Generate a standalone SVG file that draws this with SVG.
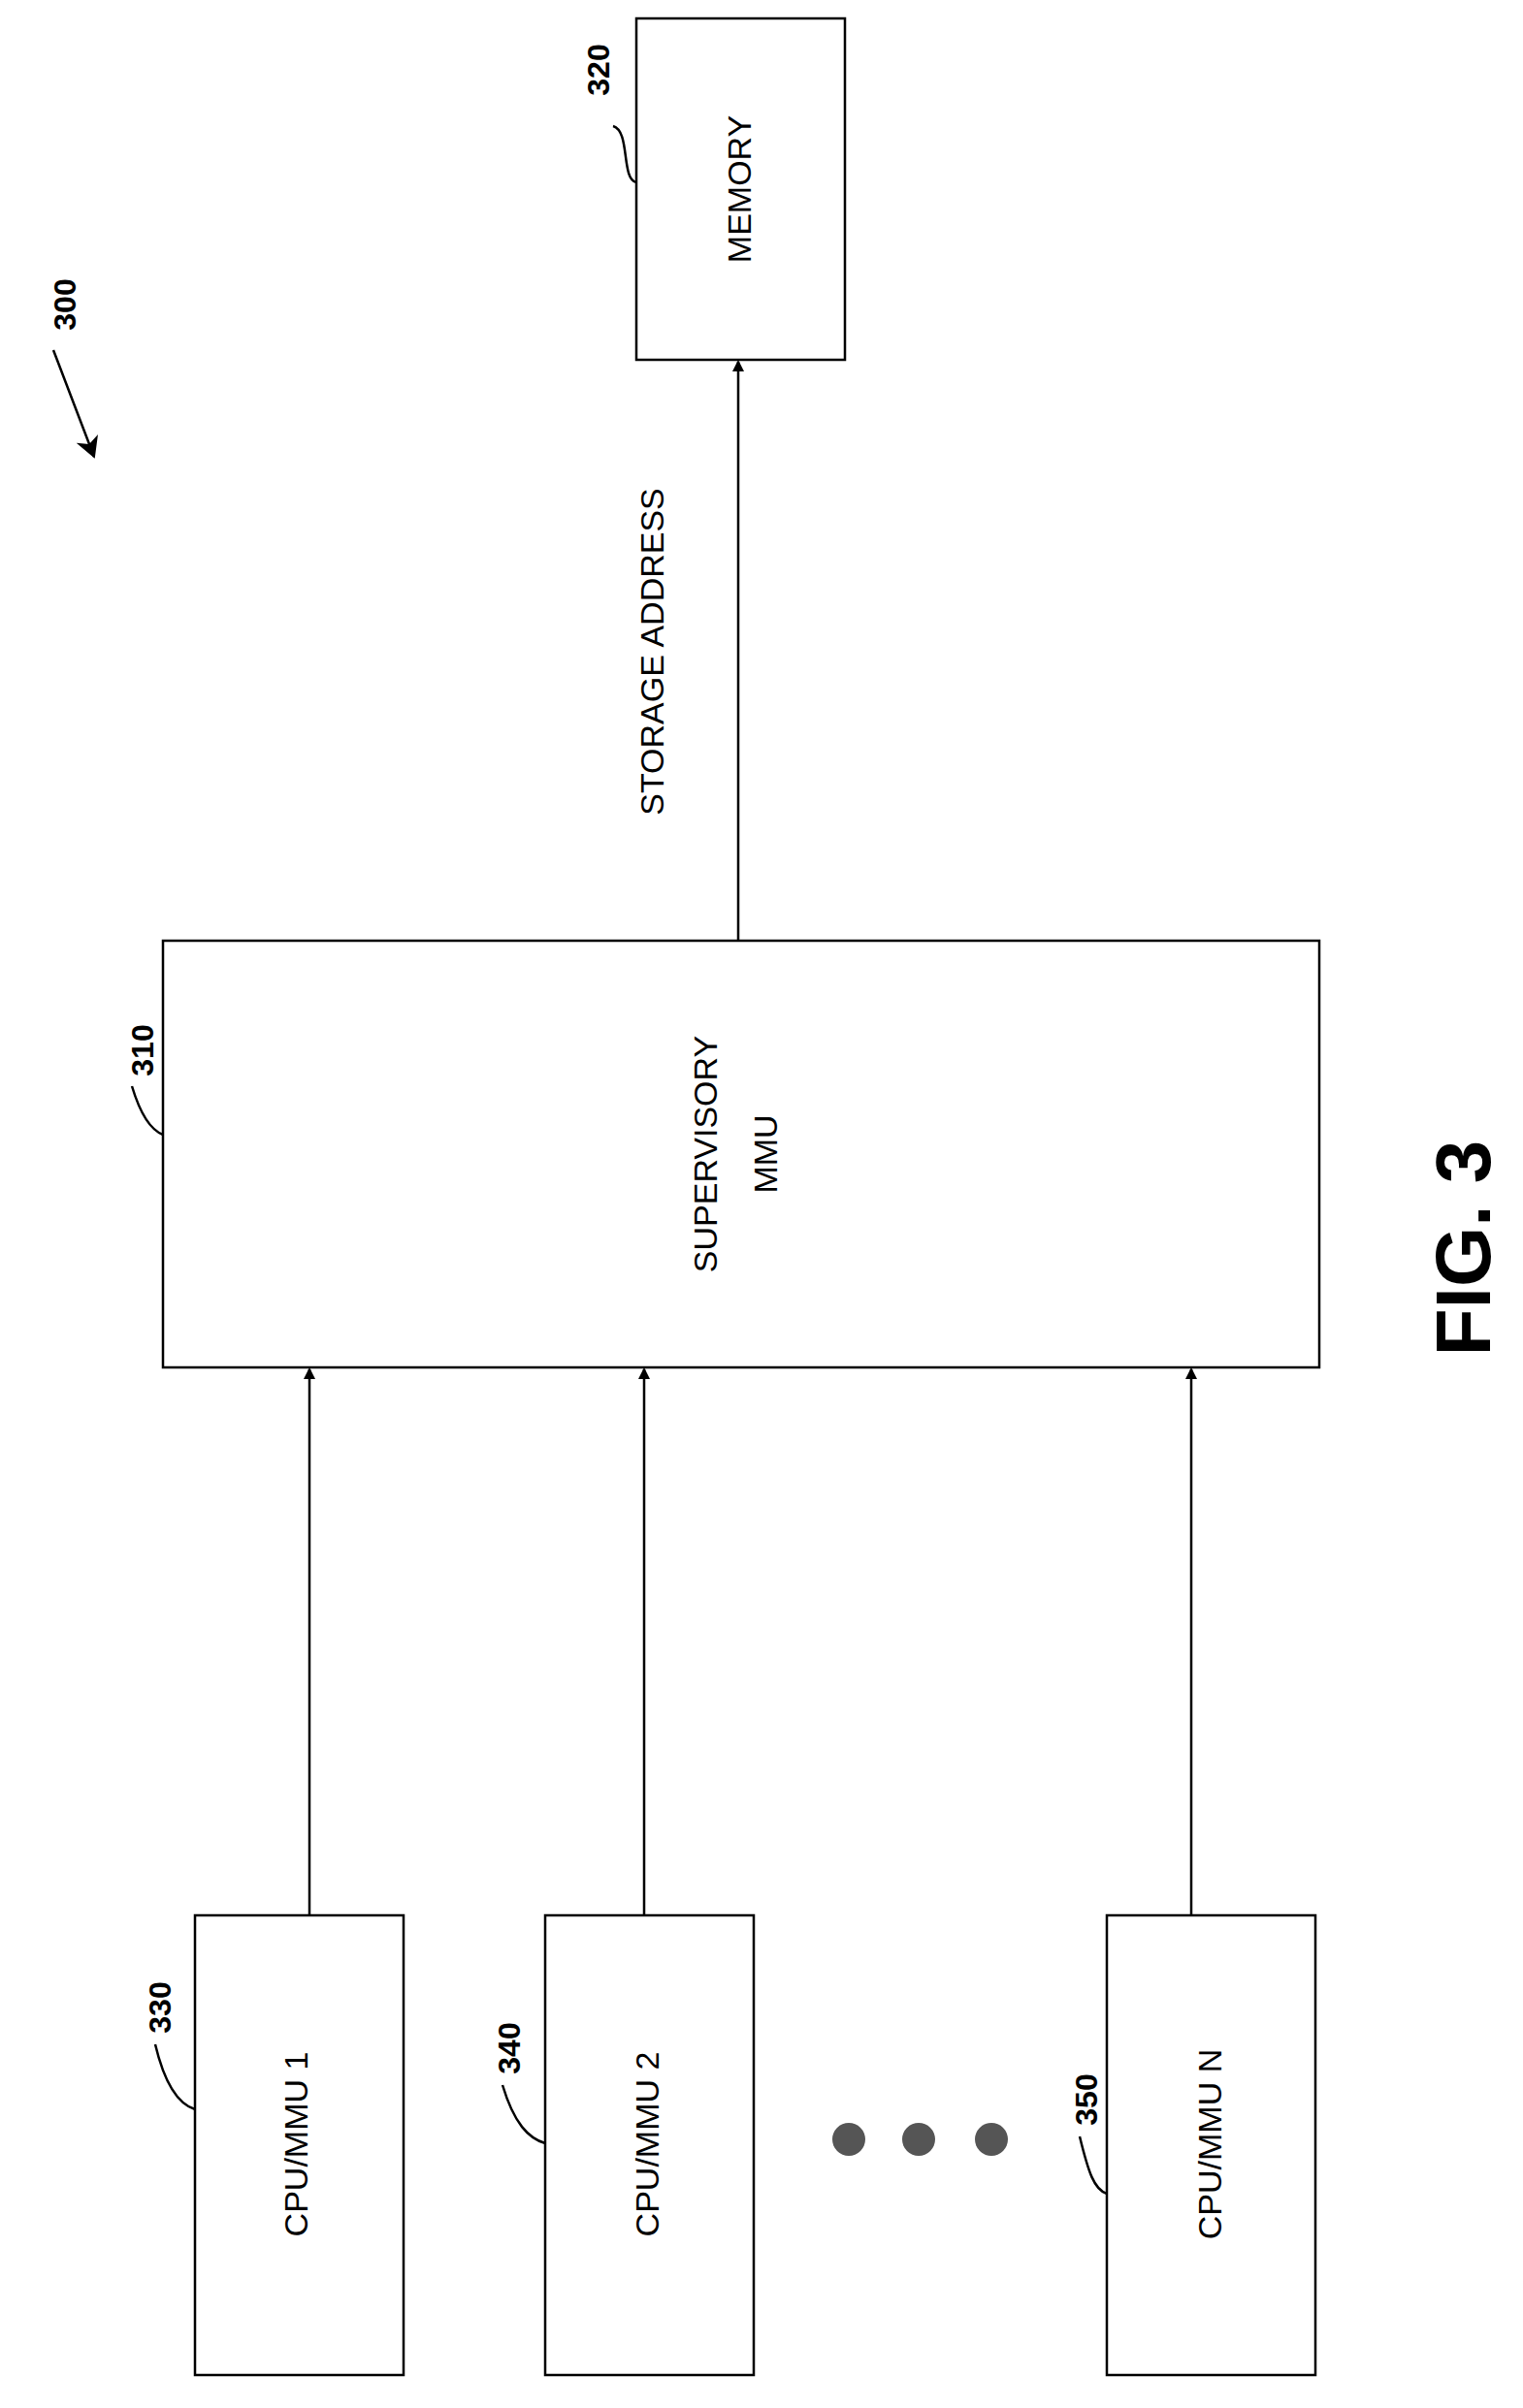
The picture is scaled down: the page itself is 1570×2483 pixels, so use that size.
<svg xmlns="http://www.w3.org/2000/svg" width="1570" height="2483" viewBox="0 0 1570 2483">
<style>
.b{fill:#fff;stroke:#000;stroke-width:2.5}
.t{font-family:"Liberation Sans",Arial,sans-serif;font-size:34px;fill:#000;text-anchor:middle;dominant-baseline:middle}
.r{font-family:"Liberation Sans",Arial,sans-serif;font-size:32px;font-weight:bold;fill:#000;text-anchor:middle;dominant-baseline:middle}
.l{fill:none;stroke:#000;stroke-width:2.5}
</style>
<defs><marker id="a" markerWidth="12" markerHeight="12" refX="10" refY="6" orient="auto" markerUnits="userSpaceOnUse"><path d="M0,0L12,6L0,12Z" fill="#000"/></marker>
<marker id="a2" markerWidth="24" markerHeight="24" refX="20" refY="12" orient="auto" markerUnits="userSpaceOnUse"><path d="M0,0L22,12L0,24L6,12Z" fill="#000"/></marker></defs>
<rect width="1570" height="2483" fill="#fff"/>
<g id="n320"><rect class="b" x="656" y="19" width="215" height="352"/><text class="t" transform="translate(765,195) rotate(-90)">MEMORY</text>
<text class="r" transform="translate(620,72) rotate(-90)">320</text><path class="l" d="M632,130 C650,135 640,185 656,188"/></g>
<g id="n310"><rect class="b" x="168" y="970" width="1192" height="440"/><text class="t" transform="translate(730,1190) rotate(-90)">SUPERVISORY</text><text class="t" transform="translate(792,1190) rotate(-90)">MMU</text>
<text class="r" transform="translate(150,1083) rotate(-90)">310</text><path class="l" d="M136,1120 C145,1150 155,1165 168,1170"/></g>
<g id="n330"><rect class="b" x="201" y="1975" width="215" height="474"/><text class="t" transform="translate(308,2211) rotate(-90)">CPU/MMU 1</text>
<text class="r" transform="translate(168,2070) rotate(-90)">330</text><path class="l" d="M160,2108 C170,2150 185,2170 201,2175"/></g>
<g id="n340"><rect class="b" x="562" y="1975" width="215" height="474"/><text class="t" transform="translate(670,2211) rotate(-90)">CPU/MMU 2</text>
<text class="r" transform="translate(528,2112) rotate(-90)">340</text><path class="l" d="M518,2150 C530,2190 545,2205 562,2210"/></g>
<g id="n350"><rect class="b" x="1141" y="1975" width="215" height="474"/><text class="t" transform="translate(1250,2211) rotate(-90)">CPU/MMU N</text>
<text class="r" transform="translate(1123,2165) rotate(-90)">350</text><path class="l" d="M1113,2203 C1122,2240 1128,2258 1141,2262"/></g>
<g id="dots" fill="#555"><circle cx="875" cy="2206" r="17"/><circle cx="947" cy="2206" r="17"/><circle cx="1022" cy="2206" r="17"/></g>
<g id="connectors">
<line class="l" x1="761" y1="970" x2="761" y2="373" marker-end="url(#a)"/>
<line class="l" x1="319" y1="1975" x2="319" y2="1412" marker-end="url(#a)"/>
<line class="l" x1="664" y1="1975" x2="664" y2="1412" marker-end="url(#a)"/>
<line class="l" x1="1228" y1="1975" x2="1228" y2="1412" marker-end="url(#a)"/>
<path class="l" d="M55,361 C70,400 85,440 97,471" marker-end="url(#a2)"/>
</g>
<text class="t" transform="translate(675,672) rotate(-90)">STORAGE ADDRESS</text>
<text class="r" transform="translate(70,314) rotate(-90)">300</text>
<text class="r" style="font-size:80px" transform="translate(1515,1287) rotate(-90)">FIG. 3</text>
</svg>
